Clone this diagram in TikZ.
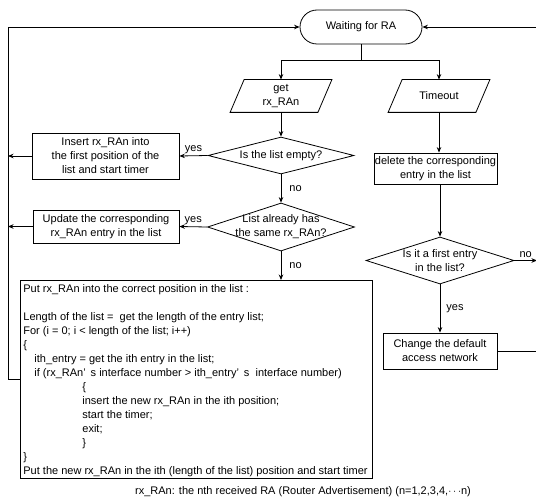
\documentclass[tikz,border=0pt]{standalone}
\usepackage{fontspec}
\setmainfont{Liberation Sans}
\usetikzlibrary{arrows.meta,shapes.geometric,calc}
\begin{document}
\begin{tikzpicture}[x=1pt,y=-1pt, line width=0.8pt,
  every node/.append style={font=\fontsize{11}{14}\selectfont, inner sep=0pt},
  proc/.style={draw, rectangle, align=center},
  term/.style={draw, rectangle, rounded corners=17, minimum width=122, minimum height=34},
  para/.style={minimum width=101, minimum height=32, align=center},
  dec/.style={draw, diamond, inner sep=0pt},
  lbl/.style={inner sep=0pt},
  conn/.style={-{Stealth[length=5.5pt,width=4.5pt]}},
]
\useasboundingbox (0,0) rectangle (536,503);

% nodes
\node[term] (wait) at (361,27) {Waiting for RA};
\node[para] (get) at (281,96) {get\\rx\_RAn};
\node[para] (tmo) at (439,96) {Timeout};
\foreach \n in {get,tmo}
  \draw (\n.south west) -- ($(\n.north west)+(14,0)$) -- (\n.north east) -- ($(\n.south east)+(-14,0)$) -- cycle;

\node[dec, minimum width=146, minimum height=37,
      label={[align=center]center:Is the list empty?}] (d1) at (281,155.5) {};
\node[dec, minimum width=147, minimum height=48,
      label={[align=center]center:List already has\\the same rx\_RAn?}] (d2) at (281,227) {};
\node[dec, minimum width=148, minimum height=47,
      label={[align=center]center:Is it a first entry\\in the list?}] (d3) at (440,260.5) {};

\node[proc, minimum width=147, minimum height=46] (ins) at (105.5,156)
  {Insert rx\_RAn into\\the first position of the\\list and start timer};
\node[proc, minimum width=146, minimum height=33] (upd) at (106,226.5)
  {Update the corresponding\\rx\_RAn entry in the list};
\node[proc, minimum width=123, minimum height=31] (del) at (435.5,168.5)
  {delete the corresponding\\entry in the list};
\node[proc, minimum width=114, minimum height=36] (chg) at (440,351)
  {Change the default\\access network};

\node[draw, anchor=north west, minimum width=352, minimum height=198] (big) at (20,280) {};
\node[anchor=north west, align=left] (bigtxt) at (23,284) {%
Put rx\_RAn into the correct position in the list :\\[14pt]
Length of the list =\ \ get the length of the entry list;\\
For (i = 0; i < length of the list; i++)\\
\{\\
\hspace*{11pt}ith\_entry = get the ith entry in the list;\\
\hspace*{11pt}if (rx\_RAn’\hspace{5pt}s interface number > ith\_entry’\hspace{5pt}s\ \ interface number)\\
\hspace*{59pt}\{\\
\hspace*{59pt}insert the new rx\_RAn in the ith position;\\
\hspace*{59pt}start the timer;\\
\hspace*{59pt}exit;\\
\hspace*{59pt}\}\\
\}\\
Put the new rx\_RAn in the ith (length of the list) position and start timer};

\node (cap) at (303,492) {rx\_RAn: the nth received RA (Router Advertisement) (n=1,2,3,4,$\cdots$n)};

% connectors
\coordinate (ltop) at (8,27);
\coordinate (rtop) at (537,27);
\coordinate (sp) at (361,60);

\draw (wait.south) -- (sp);
\draw[conn] (sp) -| (get.north);
\draw[conn] (sp) -| (tmo.north);
\draw[conn] (get.south) -- (d1.north);
\draw[conn] (d1.south) -- (d2.north) node[lbl, midway, right=8pt] (n1) {no};
\draw[conn] (d2.south) -- (d2.south |- big.north) node[lbl, midway, right=8pt] (n2) {no};
\draw[conn] (d1.west) -- (ins.east) node[lbl, midway, above=2pt] (y1) {yes};
\draw[conn] (d2.west) -- (upd.east) node[lbl, midway, above=2pt] (y2) {yes};
\draw[conn] (ins.west) -- (ins.west -| ltop);
\draw[conn] (upd.west) -- (upd.west -| ltop);
\draw[conn] (big.west) -- (big.west -| ltop) -- (ltop) -- (wait.west);

\draw[conn] (tmo.south) -- (tmo.south |- del.north);
\draw[conn] (del.south -| d3.north) -- (d3.north);
\draw[conn] (d3.south) -- (chg.north) node[lbl, midway, right=6pt] (y3) {yes};
\draw[conn] (d3.east) -- (d3.east -| rtop) node[lbl, midway, above=2pt] (n3) {no};
\draw[conn] (chg.east) -- (chg.east -| rtop) -- (rtop) -- (wait.east);
\end{tikzpicture}
\end{document}
